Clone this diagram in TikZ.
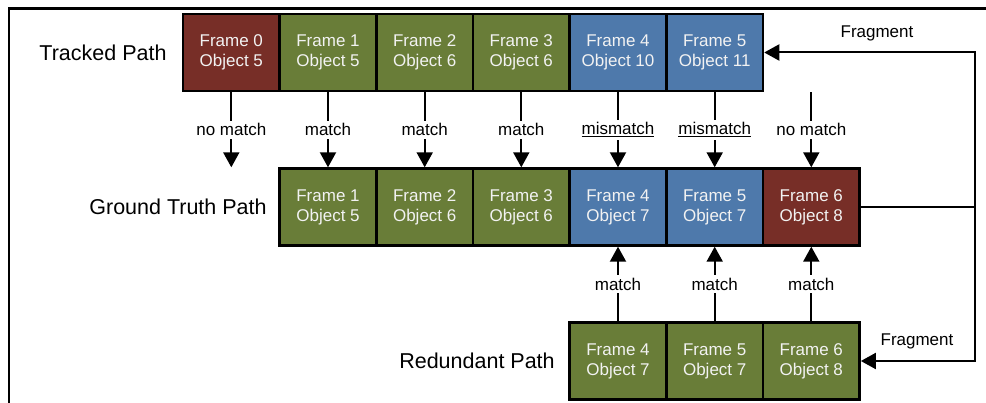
\documentclass[tikz,border=0pt]{standalone}
\usepackage{fontspec}
\setmainfont{Liberation Sans}
\usetikzlibrary{arrows.meta}

\definecolor{boxred}{RGB}{119,46,39}
\definecolor{boxgreen}{RGB}{105,125,56}
\definecolor{boxblue}{RGB}{78,121,171}
\definecolor{boxtext}{RGB}{242,242,242}

\tikzset{
  cell/.style={draw=black, line width=2.4pt, minimum width=96.7pt, minimum height=77pt,
    inner sep=0pt, align=center, text=boxtext,
    font=\fontsize{17}{20}\selectfont},
  redcell/.style={cell, fill=boxred},
  greencell/.style={cell, fill=boxgreen},
  bluecell/.style={cell, fill=boxblue},
  rowlabel/.style={font=\fontsize{21.5}{24}\selectfont, inner sep=0pt},
  tag/.style={font=\fontsize{17}{20}\selectfont, fill=white, inner sep=3pt},
  plain/.style={font=\fontsize{17}{20}\selectfont, inner sep=0pt},
  arr/.style={line width=2pt, -{Triangle[length=15pt,width=16pt]}},
  wire/.style={line width=2pt},
}

\begin{document}
\begin{tikzpicture}[x=1pt, y=-1pt]
  \useasboundingbox (0,0) rectangle (986,403);
  % outer frame (left and top edges)
  \draw[line width=2.8pt] (9,410) -- (9,8.5) -- (995,8.5);

  % tracked path
  \node[rowlabel] (lt) at (103,52.5) {Tracked Path};
  \node[redcell]   (t0) at (231.3,52.5) {Frame 0\\Object 5};
  \node[greencell] (t1) at (328,52.5)   {Frame 1\\Object 5};
  \node[greencell] (t2) at (424.7,52.5) {Frame 2\\Object 6};
  \node[greencell] (t3) at (521.3,52.5) {Frame 3\\Object 6};
  \node[bluecell]  (t4) at (618,52.5)   {Frame 4\\Object 10};
  \node[bluecell]  (t5) at (714.7,52.5) {Frame 5\\Object 11};

  % ground truth path
  \node[rowlabel] (lg) at (178,207) {Ground Truth Path};
  \node[greencell] (g1) at (328,207)   {Frame 1\\Object 5};
  \node[greencell] (g2) at (424.7,207) {Frame 2\\Object 6};
  \node[greencell] (g3) at (521.3,207) {Frame 3\\Object 6};
  \node[bluecell]  (g4) at (618,207)   {Frame 4\\Object 7};
  \node[bluecell]  (g5) at (714.7,207) {Frame 5\\Object 7};
  \node[redcell]   (g6) at (811.3,207) {Frame 6\\Object 8};

  % redundant path
  \node[rowlabel] (lr) at (477,361) {Redundant Path};
  \node[greencell] (r4) at (618,361)   {Frame 4\\Object 7};
  \node[greencell] (r5) at (714.7,361) {Frame 5\\Object 7};
  \node[greencell] (r6) at (811.3,361) {Frame 6\\Object 8};

  % tracked -> ground truth comparisons
  \coordinate (g0top) at (t0.south |- g1.north);
  \coordinate (t6bot) at (g6.north |- t5.south);
  \draw[arr] (t0.south) -- node[tag] {no match} (g0top);
  \draw[arr] (t1.south) -- node[tag] {match} (g1.north);
  \draw[arr] (t2.south) -- node[tag] {match} (g2.north);
  \draw[arr] (t3.south) -- node[tag] {match} (g3.north);
  \draw[arr] (t4.south) -- node[tag] {\underline{mismatch}} (g4.north);
  \draw[arr] (t5.south) -- node[tag] {\underline{mismatch}} (g5.north);
  \draw[arr] (t6bot) -- node[tag] {no match} (g6.north);

  % redundant -> ground truth comparisons
  \draw[arr] (r4.north) -- node[tag] {match} (g4.south);
  \draw[arr] (r5.north) -- node[tag] {match} (g5.south);
  \draw[arr] (r6.north) -- node[tag] {match} (g6.south);

  % fragment links
  \coordinate (fr) at (975,207);
  \draw[wire] (g6.east) -- (fr);
  \draw[arr] (fr) |- (t5.east);
  \draw[arr] (fr) |- (r6.east);
  \node[plain] (f1) at (877,33) {Fragment};
  \node[plain] (f2) at (917,341) {Fragment};
\end{tikzpicture}
\end{document}
